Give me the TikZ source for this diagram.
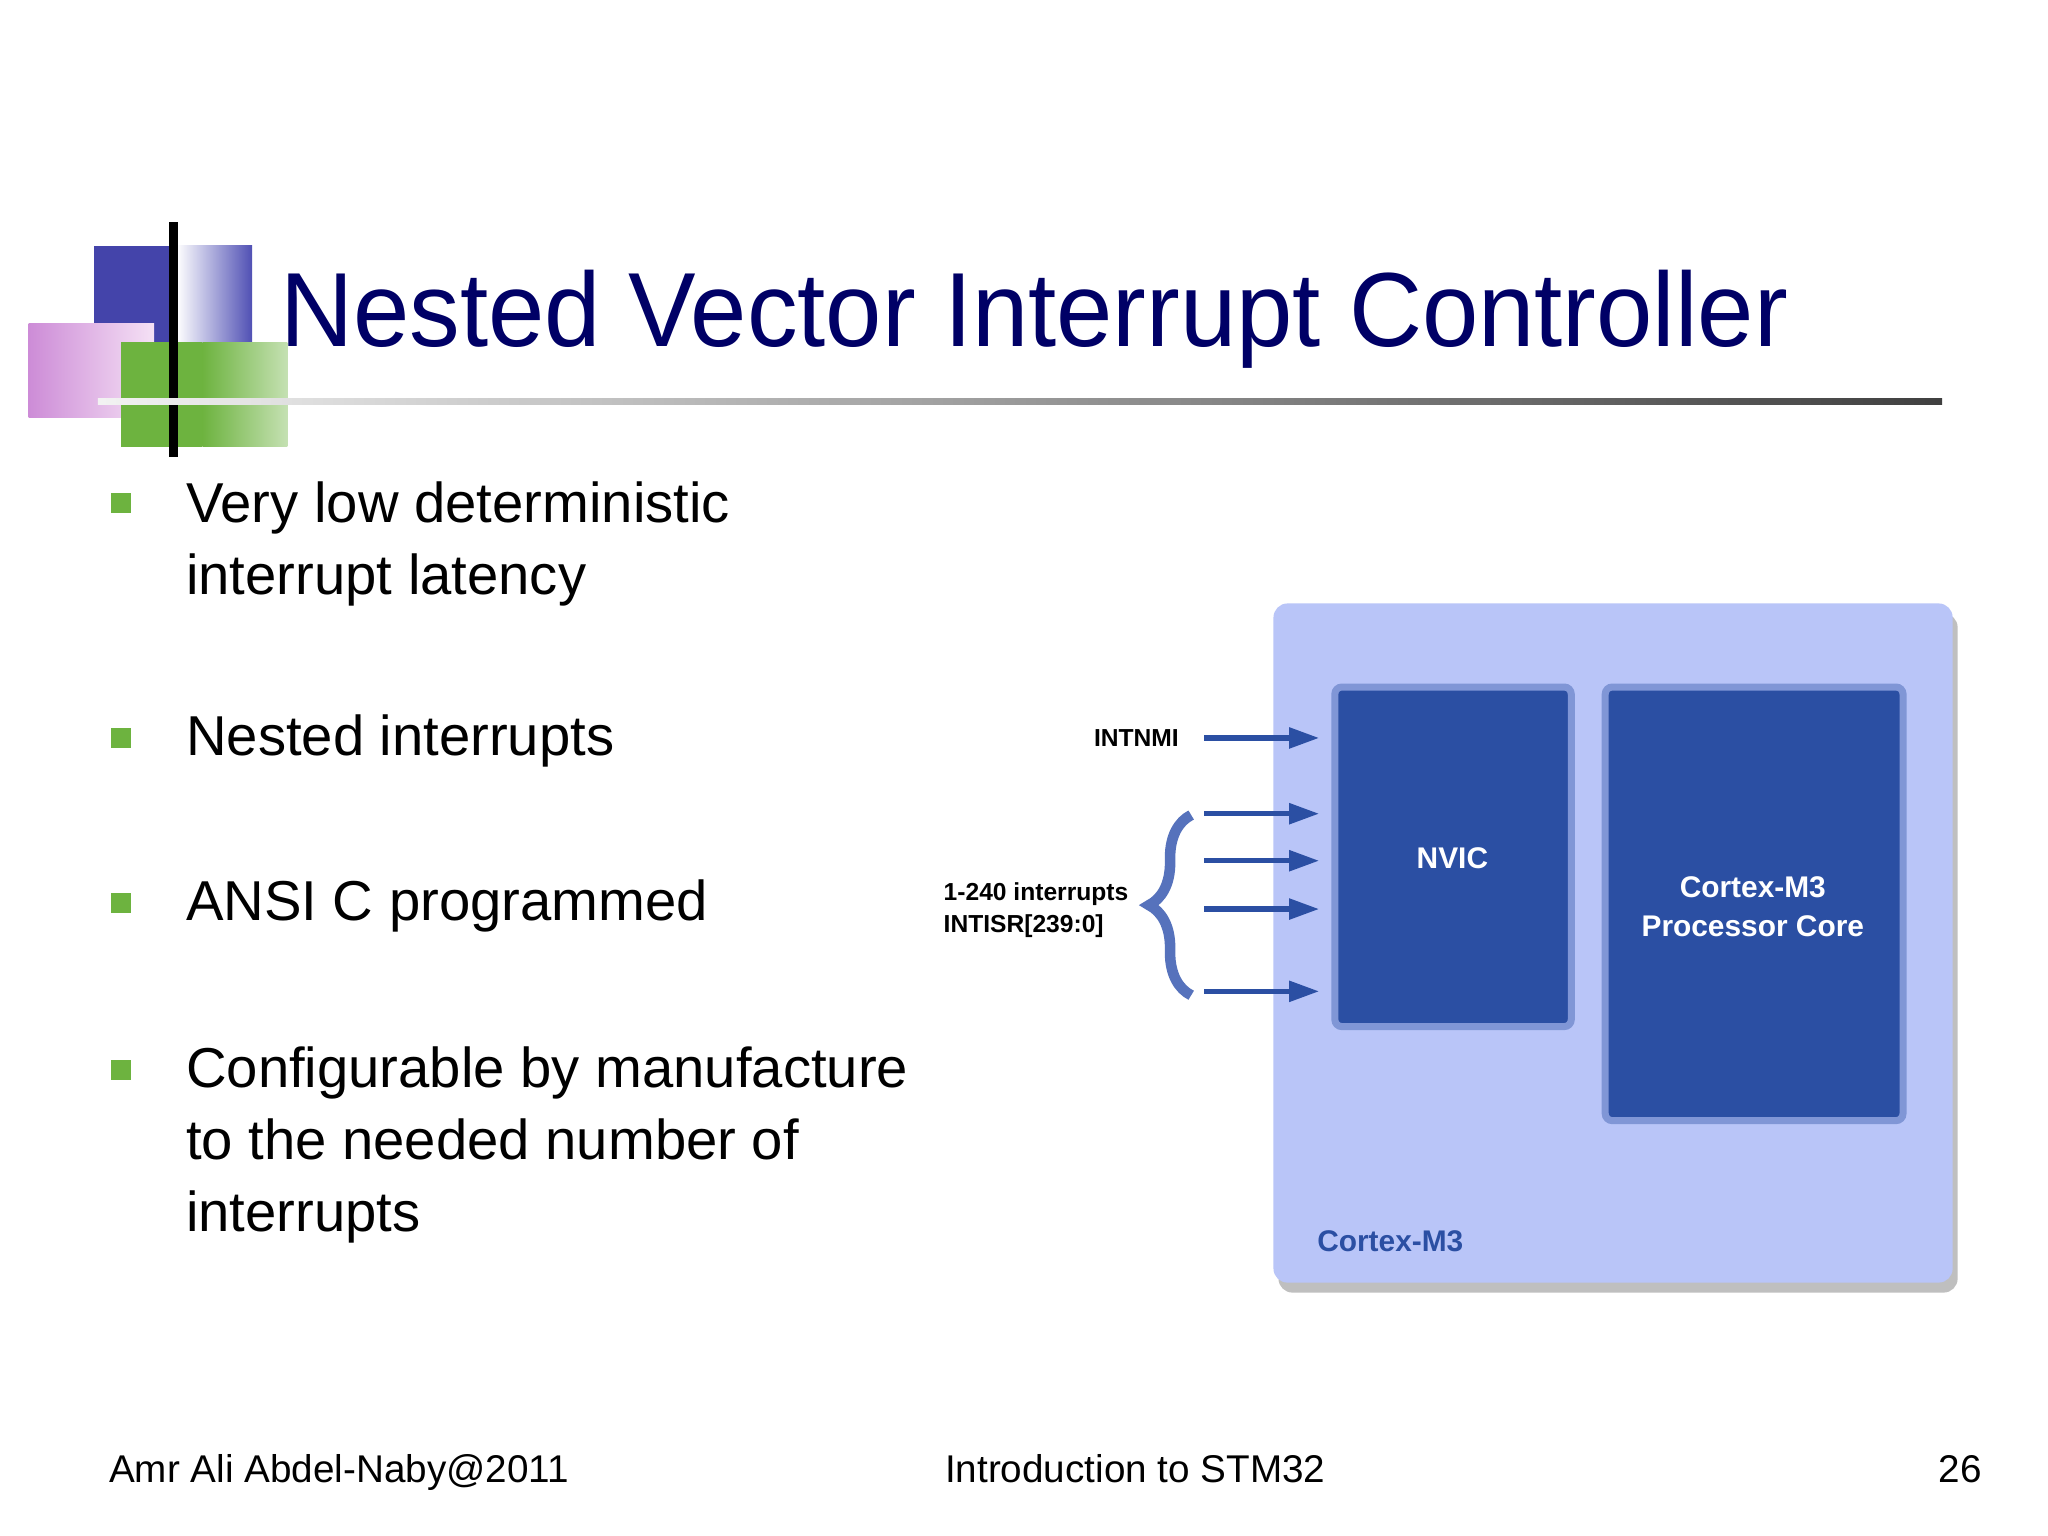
\documentclass[tikz,border=0pt]{standalone}
\usepackage{fontspec}
\setmainfont{Liberation Sans}
\newfontfamily\titlefont[FakeStretch=0.96]{Liberation Sans}
\usetikzlibrary{arrows.meta,decorations.pathreplacing,shadows}
\definecolor{navy}{HTML}{000066}
\definecolor{boxblue}{HTML}{2B4FA3}
\definecolor{outer}{HTML}{B9C5F8}
\definecolor{bgreen}{HTML}{6DB33F}
\tikzset{
 bul/.style={fill=bgreen,minimum size=0.2cm,inner sep=0pt},
 btxt/.style={anchor=north west,font=\fontsize{16}{20.5}\selectfont,align=left,inner sep=0pt},
 blk/.style={fill=boxblue,draw=boxblue!40!outer,line width=2pt,rounded corners=2pt},
 blab/.style={text=white,font=\bfseries\fontsize{8.5}{11}\selectfont,align=center},
 arr/.style={-{Triangle[length=0.3cm,width=0.2cm]},line width=1.5pt,boxblue},
 slab/.style={font=\bfseries\fontsize{7}{9}\selectfont,align=left,inner sep=0pt},
 foot/.style={font=\fontsize{11}{13}\selectfont,inner sep=0pt}
}
\begin{document}
\begin{tikzpicture}[x=0.013061cm,y=-0.013061cm]
\useasboundingbox[fill=white] (0,0) rectangle (1568,1176);
% logo
\fill[fill={rgb,255:red,68;green,68;blue,170}] (72,188) rectangle (135,262);
\shade[left color=white,right color={rgb,255:red,80;green,80;blue,180}] (135,188) rectangle (193,262);
\shade[left color={rgb,255:red,205;green,140;blue,215},right color={rgb,255:red,245;green,225;blue,245}] (22,248) rectangle (118,320);
\fill[bgreen] (93,262) rectangle (155,342);
\shade[left color=bgreen,right color=bgreen!40] (155,262) rectangle (220,342);
\draw[line width=2.5pt] (133,170) -- (133,350);
\shade[left color=gray!10,right color=black!75] (75,305) rectangle (1487,310);
\node[anchor=base west,inner sep=0pt,text=navy,font=\titlefont\fontsize{30}{36}\selectfont] (title) at (214,265) {Nested Vector Interrupt Controller};
% bullets
\node[bul] (b1) at (93,385) {};
\node[btxt] (t1) at (142,368) {Very low deterministic\\interrupt latency};
\node[bul] (b2) at (93,565) {};
\node[btxt] (t2) at (142,547) {Nested interrupts};
\node[bul] (b3) at (93,691) {};
\node[btxt] (t3) at (142,673) {ANSI C programmed};
\node[bul] (b4) at (93,819) {};
\node[btxt] (t4) at (142,801) {Configurable by manufacture\\to the needed number of\\interrupts};
% diagram
\fill[outer,rounded corners=4pt,drop shadow={shadow xshift=0.5mm,shadow yshift=-1mm,opacity=0.5}] (975,462) rectangle (1495,982);
\draw[blk] (1022,526) rectangle (1203,786);
\draw[blk] (1229,526) rectangle (1457,858);
\node[blab] (nvic) at (1112,657) {NVIC};
\node[blab] (core) at (1342,694) {Cortex-M3\\Processor Core};
\node[anchor=west,inner sep=0pt,text=boxblue,font=\bfseries\fontsize{8.5}{10}\selectfont] (cm3) at (1008,950) {Cortex-M3};
\foreach \y/\n in {565/a,623/b,659/c,696/d,759/e}{
 \coordinate (s\n) at (922,\y); \coordinate (e\n) at (1010,\y);
 \draw[arr] (s\n) -- (e\n);}
\node[slab,anchor=east] (nmi) at (903,565) {INTNMI};
\coordinate (br1) at (912,762); \coordinate (br2) at (912,624);
\draw[boxblue!70!outer,line width=3pt,decorate,decoration={brace,amplitude=12pt}] (br1) -- (br2);
\node[slab,anchor=west] (irq) at (722,697) {1-240 interrupts\\INTISR[239:0]};
% footer
\node[foot,anchor=base west] (f1) at (83,1135) {Amr Ali Abdel-Naby@2011};
\node[foot,anchor=base west] (f2) at (723,1135) {Introduction to STM32};
\node[foot,anchor=base east] (f3) at (1518,1135) {26};
\end{tikzpicture}
\end{document}
